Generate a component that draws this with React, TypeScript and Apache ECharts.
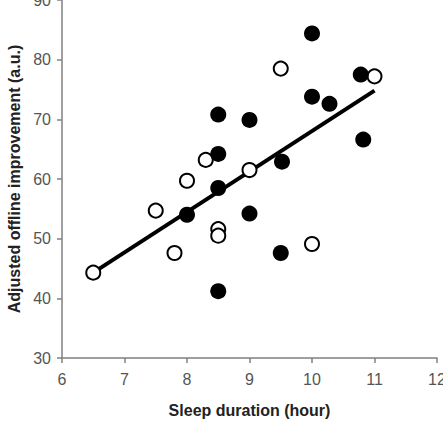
import React, { useEffect, useRef } from "react";
import * as echarts from "echarts";

const filledPoints: [number, number][] = [
  [10.0, 84.4], [8.5, 70.8], [9.0, 69.9], [8.5, 64.2], [10.0, 73.8],
  [10.28, 72.6], [10.78, 77.5], [10.82, 66.6], [8.5, 58.5], [9.52, 62.9],
  [8.0, 54.0], [9.0, 54.2], [9.5, 47.6], [8.5, 41.2],
];
const openPoints: [number, number][] = [
  [9.5, 78.5], [11.0, 77.2], [8.3, 63.2], [9.0, 61.5], [8.0, 59.7],
  [7.5, 54.7], [8.5, 51.6], [8.5, 50.5], [7.8, 47.6], [10.0, 49.1], [6.5, 44.3],
];
const fitLine: [number, number][] = [[6.5, 44.3], [11.0, 74.8]];
const xTicks = [6, 7, 8, 9, 10, 11, 12];
const yTicks = [30, 40, 50, 60, 70, 80, 90];

export default function App() {
  const ref = useRef<HTMLDivElement>(null);
  useEffect(() => {
    if (!ref.current) return;
    const chart = echarts.init(ref.current, null, { renderer: "svg" });
    const font = "'Liberation Sans', Arial, Helvetica, sans-serif";
    chart.setOption({
      animation: false,
      backgroundColor: "#fff",
      grid: { left: 62, right: 6, top: 0, bottom: 75, containLabel: false, outerBoundsMode: "none" },
      xAxis: {
        type: "value",
        min: xTicks[0],
        max: xTicks[xTicks.length - 1],
        interval: 1,
        name: "Sleep duration (hour)",
        nameLocation: "middle",
        nameGap: 44,
        nameTextStyle: { fontFamily: font, fontWeight: "bold", fontSize: 16, color: "#222" },
        axisLine: { show: true, lineStyle: { color: "#808080", width: 1.5 } },
        axisTick: { show: true, length: 5, lineStyle: { color: "#808080", width: 1.5 } },
        axisLabel: { fontFamily: font, fontSize: 16, color: "#555", margin: 13, showMaxLabel: true, showMinLabel: true, hideOverlap: false },
        splitLine: { show: false },
      },
      yAxis: {
        type: "value",
        min: yTicks[0],
        max: yTicks[yTicks.length - 1],
        interval: 10,
        name: "Adjusted offline improvement (a.u.)",
        nameLocation: "middle",
        nameGap: 40,
        nameTextStyle: { fontFamily: font, fontWeight: "bold", fontSize: 16, color: "#222" },
        axisLine: { show: true, lineStyle: { color: "#808080", width: 1.5 } },
        axisTick: { show: true, length: 5, lineStyle: { color: "#808080", width: 1.5 } },
        axisLabel: { fontFamily: font, fontSize: 16, color: "#555", margin: 11, showMaxLabel: true, showMinLabel: true, hideOverlap: false },
        splitLine: { show: false },
      },
      series: [
        {
          type: "line",
          data: fitLine,
          symbol: "none",
          lineStyle: { color: "#000", width: 4 },
          z: 1,
        },
        {
          type: "scatter",
          data: openPoints,
          symbol: "circle",
          symbolSize: 14,
          itemStyle: { color: "#fff", borderColor: "#000", borderWidth: 2, opacity: 1 },
          z: 2,
        },
        {
          type: "scatter",
          data: filledPoints,
          symbol: "circle",
          symbolSize: 16,
          itemStyle: { color: "#000", opacity: 1 },
          z: 3,
        },
      ],
    });
    return () => chart.dispose();
  }, []);
  return (
    <div
      ref={ref}
      style={{ position: "fixed", left: 0, top: 0, width: 443, height: 433 }}
    />
  );
}
